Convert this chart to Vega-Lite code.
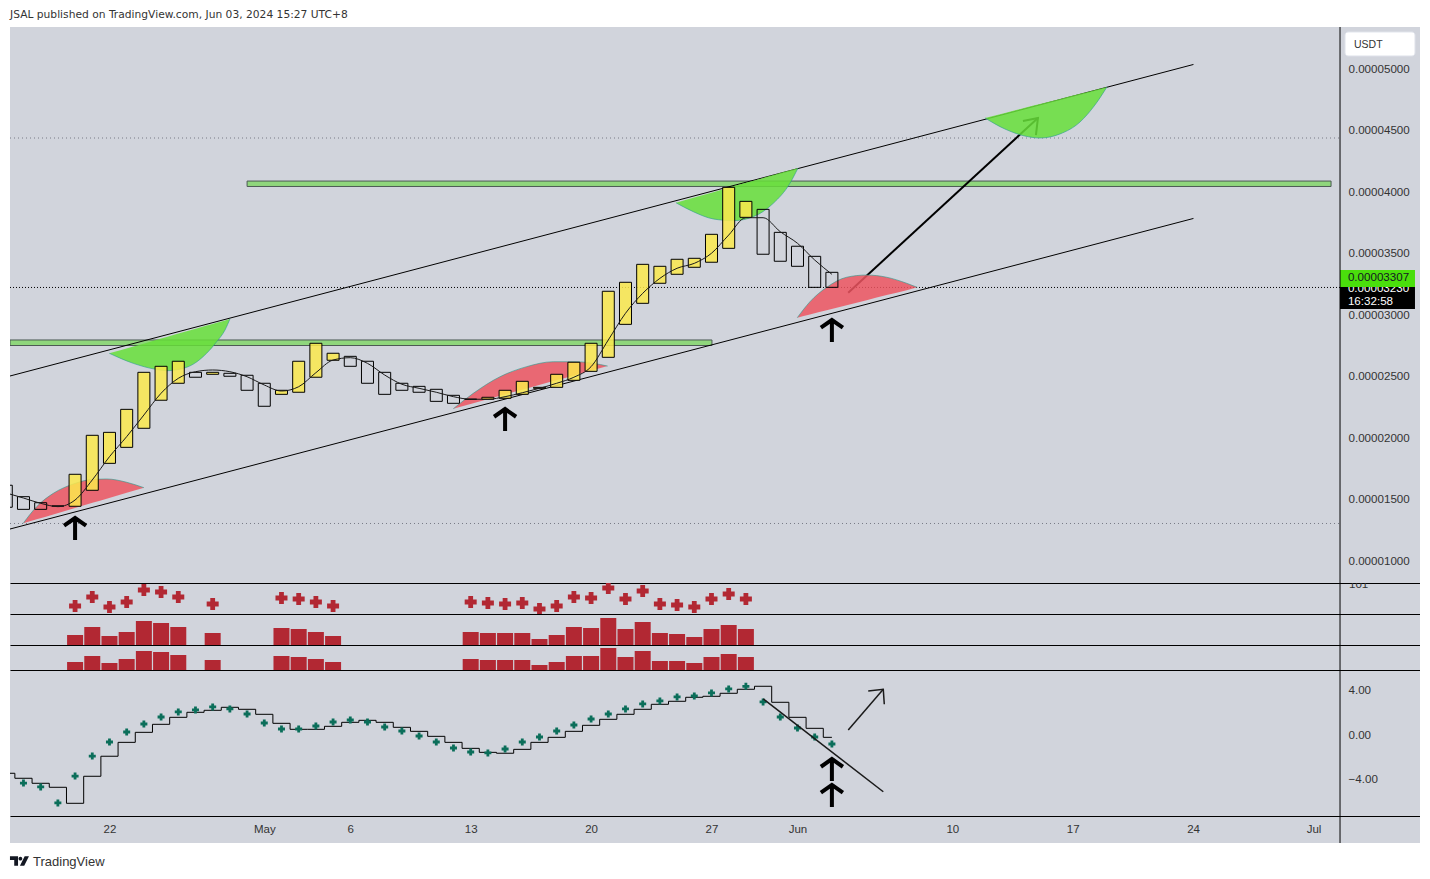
{
  "$schema": "https://vega.github.io/schema/vega-lite/v6.json",
  "description": "JSAL/USDT daily chart with channel, support zones, signal strips and oscillator.",
  "background": "#ffffff",
  "padding": {"left": 9, "right": 0, "top": 0, "bottom": 0},
  "bounds": "flush",
  "spacing": 0,
  "config": {
    "view": {"stroke": null},
    "scale": {"continuousPadding": 0},
    "axis": {"grid": false, "ticks": false, "title": null, "labelFont": "Liberation Sans", "labelFontSize": 11.6, "labelColor": "#333333"},
    "text": {"font": "Liberation Sans", "fontSize": 11.6, "color": "#333333", "align": "left"}
  },
  "datasets": {
    "candles": [
      {"date": "2024-04-16T00:00Z", "open": 1620, "close": 1441, "ma": 1557, "dir": "down"},
      {"date": "2024-04-17T00:00Z", "open": 1527, "close": 1424, "ma": 1516, "dir": "down"},
      {"date": "2024-04-18T00:00Z", "open": 1478, "close": 1424, "ma": 1473, "dir": "down"},
      {"date": "2024-04-19T00:00Z", "open": 1451, "close": 1451, "ma": 1446, "dir": "down"},
      {"date": "2024-04-20T00:00Z", "open": 1449, "close": 1709, "ma": 1500, "dir": "up"},
      {"date": "2024-04-21T00:00Z", "open": 1579, "close": 2026, "ma": 1663, "dir": "up"},
      {"date": "2024-04-22T00:00Z", "open": 1798, "close": 2050, "ma": 1852, "dir": "up"},
      {"date": "2024-04-23T00:00Z", "open": 1928, "close": 2237, "ma": 2015, "dir": "up"},
      {"date": "2024-04-24T00:00Z", "open": 2083, "close": 2538, "ma": 2191, "dir": "up"},
      {"date": "2024-04-25T00:00Z", "open": 2311, "close": 2587, "ma": 2368, "dir": "up"},
      {"date": "2024-04-26T00:00Z", "open": 2449, "close": 2628, "ma": 2489, "dir": "up"},
      {"date": "2024-04-27T00:00Z", "open": 2538, "close": 2498, "ma": 2543, "dir": "down"},
      {"date": "2024-04-28T00:00Z", "open": 2522, "close": 2538, "ma": 2557, "dir": "up"},
      {"date": "2024-04-29T00:00Z", "open": 2530, "close": 2506, "ma": 2543, "dir": "down"},
      {"date": "2024-04-30T00:00Z", "open": 2514, "close": 2392, "ma": 2502, "dir": "down"},
      {"date": "2024-05-01T00:00Z", "open": 2449, "close": 2262, "ma": 2435, "dir": "down"},
      {"date": "2024-05-02T00:00Z", "open": 2359, "close": 2392, "ma": 2386, "dir": "up"},
      {"date": "2024-05-03T00:00Z", "open": 2376, "close": 2628, "ma": 2421, "dir": "up"},
      {"date": "2024-05-04T00:00Z", "open": 2498, "close": 2774, "ma": 2535, "dir": "up"},
      {"date": "2024-05-05T00:00Z", "open": 2636, "close": 2693, "ma": 2638, "dir": "up"},
      {"date": "2024-05-06T00:00Z", "open": 2668, "close": 2587, "ma": 2657, "dir": "down"},
      {"date": "2024-05-07T00:00Z", "open": 2628, "close": 2449, "ma": 2611, "dir": "down"},
      {"date": "2024-05-08T00:00Z", "open": 2538, "close": 2359, "ma": 2516, "dir": "down"},
      {"date": "2024-05-09T00:00Z", "open": 2449, "close": 2392, "ma": 2441, "dir": "down"},
      {"date": "2024-05-10T00:00Z", "open": 2424, "close": 2376, "ma": 2408, "dir": "down"},
      {"date": "2024-05-11T00:00Z", "open": 2400, "close": 2302, "ma": 2376, "dir": "down"},
      {"date": "2024-05-12T00:00Z", "open": 2351, "close": 2286, "ma": 2340, "dir": "down"},
      {"date": "2024-05-13T00:00Z", "open": 2319, "close": 2319, "ma": 2319, "dir": "down"},
      {"date": "2024-05-14T00:00Z", "open": 2319, "close": 2335, "ma": 2319, "dir": "up"},
      {"date": "2024-05-15T00:00Z", "open": 2327, "close": 2392, "ma": 2340, "dir": "up"},
      {"date": "2024-05-16T00:00Z", "open": 2359, "close": 2465, "ma": 2372, "dir": "up"},
      {"date": "2024-05-17T00:00Z", "open": 2408, "close": 2416, "ma": 2408, "dir": "up"},
      {"date": "2024-05-18T00:00Z", "open": 2416, "close": 2522, "ma": 2449, "dir": "up"},
      {"date": "2024-05-19T00:00Z", "open": 2473, "close": 2620, "ma": 2498, "dir": "up"},
      {"date": "2024-05-20T00:00Z", "open": 2546, "close": 2774, "ma": 2584, "dir": "up"},
      {"date": "2024-05-21T00:00Z", "open": 2660, "close": 3197, "ma": 2801, "dir": "up"},
      {"date": "2024-05-22T00:00Z", "open": 2928, "close": 3270, "ma": 3018, "dir": "up"},
      {"date": "2024-05-23T00:00Z", "open": 3099, "close": 3416, "ma": 3180, "dir": "up"},
      {"date": "2024-05-24T00:00Z", "open": 3262, "close": 3400, "ma": 3302, "dir": "up"},
      {"date": "2024-05-25T00:00Z", "open": 3335, "close": 3457, "ma": 3384, "dir": "up"},
      {"date": "2024-05-26T00:00Z", "open": 3392, "close": 3465, "ma": 3424, "dir": "up"},
      {"date": "2024-05-27T00:00Z", "open": 3433, "close": 3660, "ma": 3506, "dir": "up"},
      {"date": "2024-05-28T00:00Z", "open": 3546, "close": 4042, "ma": 3654, "dir": "up"},
      {"date": "2024-05-29T00:00Z", "open": 3798, "close": 3928, "ma": 3795, "dir": "up"},
      {"date": "2024-05-30T00:00Z", "open": 3863, "close": 3498, "ma": 3795, "dir": "down"},
      {"date": "2024-05-31T00:00Z", "open": 3676, "close": 3441, "ma": 3681, "dir": "down"},
      {"date": "2024-06-01T00:00Z", "open": 3563, "close": 3400, "ma": 3587, "dir": "down"},
      {"date": "2024-06-02T00:00Z", "open": 3481, "close": 3229, "ma": 3451, "dir": "down"},
      {"date": "2024-06-03T00:00Z", "open": 3351, "close": 3229, "ma": 3335, "dir": "down"}
    ],
    "channels": [
      {"id": "upper", "date": "2024-04-16T05:12Z", "price": 2508},
      {"id": "upper", "date": "2024-06-24T00:30Z", "price": 5041},
      {"id": "lower", "date": "2024-04-16T05:12Z", "price": 1264},
      {"id": "lower", "date": "2024-06-24T00:30Z", "price": 3789}
    ],
    "target": [
      {"id": "shaft", "seq": 1, "date": "2024-06-03T22:48Z", "price": 3185},
      {"id": "shaft", "seq": 2, "date": "2024-06-14T23:30Z", "price": 4606},
      {"id": "head", "seq": 1, "date": "2024-06-14T02:36Z", "price": 4581},
      {"id": "head", "seq": 2, "date": "2024-06-14T23:30Z", "price": 4606},
      {"id": "head", "seq": 3, "date": "2024-06-14T20:42Z", "price": 4467}
    ],
    "greenArcs": [
      {"id": "g1", "date": "2024-04-21T23:42Z", "arc": 2693, "chord": 2693},
      {"id": "g1", "date": "2024-04-23T09:12Z", "arc": 2611, "chord": 2748},
      {"id": "g1", "date": "2024-04-24T15:54Z", "arc": 2563, "chord": 2799},
      {"id": "g1", "date": "2024-04-25T07:48Z", "arc": 2551, "chord": 2825},
      {"id": "g1", "date": "2024-04-26T11:42Z", "arc": 2579, "chord": 2871},
      {"id": "g1", "date": "2024-04-27T15:36Z", "arc": 2693, "chord": 2918},
      {"id": "g1", "date": "2024-04-28T05:36Z", "arc": 2787, "chord": 2941},
      {"id": "g1", "date": "2024-04-28T17:12Z", "arc": 2882, "chord": 2960},
      {"id": "g1", "date": "2024-04-29T00:06Z", "arc": 2972, "chord": 2972},
      {"id": "g2", "date": "2024-05-24T22:24Z", "arc": 3917, "chord": 3917},
      {"id": "g2", "date": "2024-05-25T22:36Z", "arc": 3844, "chord": 3957},
      {"id": "g2", "date": "2024-05-27T02:30Z", "arc": 3785, "chord": 4003},
      {"id": "g2", "date": "2024-05-28T06:24Z", "arc": 3771, "chord": 4050},
      {"id": "g2", "date": "2024-05-29T10:18Z", "arc": 3803, "chord": 4096},
      {"id": "g2", "date": "2024-05-30T14:12Z", "arc": 3912, "chord": 4142},
      {"id": "g2", "date": "2024-05-31T13:30Z", "arc": 4075, "chord": 4180},
      {"id": "g2", "date": "2024-06-01T00:42Z", "arc": 4199, "chord": 4199},
      {"id": "g3", "date": "2024-06-11T21:36Z", "arc": 4606, "chord": 4606},
      {"id": "g3", "date": "2024-06-13T01:30Z", "arc": 4516, "chord": 4647},
      {"id": "g3", "date": "2024-06-14T05:24Z", "arc": 4459, "chord": 4689},
      {"id": "g3", "date": "2024-06-15T02:18Z", "arc": 4443, "chord": 4719},
      {"id": "g3", "date": "2024-06-16T06:18Z", "arc": 4476, "chord": 4761},
      {"id": "g3", "date": "2024-06-17T10:12Z", "arc": 4573, "chord": 4802},
      {"id": "g3", "date": "2024-06-18T07:00Z", "arc": 4711, "chord": 4833},
      {"id": "g3", "date": "2024-06-18T23:48Z", "arc": 4858, "chord": 4858}
    ],
    "redArcs": [
      {"id": "r1", "date": "2024-04-16T23:42Z", "arc": 1311, "chord": 1311},
      {"id": "r1", "date": "2024-04-17T18:24Z", "arc": 1446, "chord": 1343},
      {"id": "r1", "date": "2024-04-18T17:36Z", "arc": 1554, "chord": 1383},
      {"id": "r1", "date": "2024-04-19T21:30Z", "arc": 1630, "chord": 1431},
      {"id": "r1", "date": "2024-04-21T01:24Z", "arc": 1668, "chord": 1479},
      {"id": "r1", "date": "2024-04-21T20:06Z", "arc": 1671, "chord": 1511},
      {"id": "r1", "date": "2024-04-23T00:00Z", "arc": 1644, "chord": 1559},
      {"id": "r1", "date": "2024-04-24T00:06Z", "arc": 1600, "chord": 1600},
      {"id": "r2", "date": "2024-05-11T23:42Z", "arc": 2242, "chord": 2242},
      {"id": "r2", "date": "2024-05-13T03:36Z", "arc": 2367, "chord": 2287},
      {"id": "r2", "date": "2024-05-14T16:54Z", "arc": 2502, "chord": 2347},
      {"id": "r2", "date": "2024-05-16T06:06Z", "arc": 2584, "chord": 2407},
      {"id": "r2", "date": "2024-05-17T19:12Z", "arc": 2624, "chord": 2467},
      {"id": "r2", "date": "2024-05-19T03:54Z", "arc": 2624, "chord": 2519},
      {"id": "r2", "date": "2024-05-20T03:00Z", "arc": 2611, "chord": 2557},
      {"id": "r2", "date": "2024-05-20T23:06Z", "arc": 2589, "chord": 2589},
      {"id": "r3", "date": "2024-05-31T23:42Z", "arc": 2982, "chord": 2982},
      {"id": "r3", "date": "2024-06-01T17:24Z", "arc": 3112, "chord": 3008},
      {"id": "r3", "date": "2024-06-02T16:42Z", "arc": 3229, "chord": 3042},
      {"id": "r3", "date": "2024-06-03T20:36Z", "arc": 3311, "chord": 3084},
      {"id": "r3", "date": "2024-06-05T00:30Z", "arc": 3329, "chord": 3124},
      {"id": "r3", "date": "2024-06-06T04:24Z", "arc": 3311, "chord": 3166},
      {"id": "r3", "date": "2024-06-07T08:18Z", "arc": 3262, "chord": 3206},
      {"id": "r3", "date": "2024-06-07T23:06Z", "arc": 3229, "chord": 3229}
    ],
    "signals": [
      {"date": "2024-04-20T00:00Z", "plus": 8, "vol1": 10, "vol2": 8},
      {"date": "2024-04-21T00:00Z", "plus": 17, "vol1": 18, "vol2": 14},
      {"date": "2024-04-22T00:00Z", "plus": 7, "vol1": 9, "vol2": 7},
      {"date": "2024-04-23T00:00Z", "plus": 12, "vol1": 13, "vol2": 11},
      {"date": "2024-04-24T00:00Z", "plus": 24, "vol1": 24, "vol2": 19},
      {"date": "2024-04-25T00:00Z", "plus": 22, "vol1": 22, "vol2": 18},
      {"date": "2024-04-26T00:00Z", "plus": 17, "vol1": 18, "vol2": 15},
      {"date": "2024-04-28T00:00Z", "plus": 10, "vol1": 12, "vol2": 10},
      {"date": "2024-05-02T00:00Z", "plus": 16, "vol1": 17, "vol2": 14},
      {"date": "2024-05-03T00:00Z", "plus": 15, "vol1": 16, "vol2": 13},
      {"date": "2024-05-04T00:00Z", "plus": 12, "vol1": 13, "vol2": 11},
      {"date": "2024-05-05T00:00Z", "plus": 8, "vol1": 9, "vol2": 8},
      {"date": "2024-05-13T00:00Z", "plus": 12, "vol1": 13, "vol2": 11},
      {"date": "2024-05-14T00:00Z", "plus": 11, "vol1": 12, "vol2": 10},
      {"date": "2024-05-15T00:00Z", "plus": 10, "vol1": 12, "vol2": 10},
      {"date": "2024-05-16T00:00Z", "plus": 11, "vol1": 12, "vol2": 10},
      {"date": "2024-05-17T00:00Z", "plus": 5, "vol1": 6, "vol2": 5},
      {"date": "2024-05-18T00:00Z", "plus": 8, "vol1": 10, "vol2": 8},
      {"date": "2024-05-19T00:00Z", "plus": 17, "vol1": 18, "vol2": 14},
      {"date": "2024-05-20T00:00Z", "plus": 16, "vol1": 17, "vol2": 14},
      {"date": "2024-05-21T00:00Z", "plus": 26, "vol1": 27, "vol2": 22},
      {"date": "2024-05-22T00:00Z", "plus": 15, "vol1": 16, "vol2": 13},
      {"date": "2024-05-23T00:00Z", "plus": 23, "vol1": 23, "vol2": 19},
      {"date": "2024-05-24T00:00Z", "plus": 10, "vol1": 12, "vol2": 9},
      {"date": "2024-05-25T00:00Z", "plus": 9, "vol1": 11, "vol2": 9},
      {"date": "2024-05-26T00:00Z", "plus": 7, "vol1": 8, "vol2": 7},
      {"date": "2024-05-27T00:00Z", "plus": 15, "vol1": 16, "vol2": 13},
      {"date": "2024-05-28T00:00Z", "plus": 20, "vol1": 20, "vol2": 16},
      {"date": "2024-05-29T00:00Z", "plus": 15, "vol1": 16, "vol2": 13}
    ],
    "oscillator": [
      {"date": "2024-04-16T00:00Z", "line": -3.44},
      {"date": "2024-04-17T00:00Z", "line": -3.89, "dots": -4.32},
      {"date": "2024-04-18T00:00Z", "line": -4.34, "dots": -4.67},
      {"date": "2024-04-19T00:00Z", "line": -4.70, "dots": -6.11},
      {"date": "2024-04-20T00:00Z", "line": -6.14, "dots": -3.69},
      {"date": "2024-04-21T00:00Z", "line": -3.71, "dots": -1.89},
      {"date": "2024-04-22T00:00Z", "line": -1.91, "dots": -0.63},
      {"date": "2024-04-23T00:00Z", "line": -0.66, "dots": 0.27},
      {"date": "2024-04-24T00:00Z", "line": 0.24, "dots": 0.99},
      {"date": "2024-04-25T00:00Z", "line": 0.96, "dots": 1.62},
      {"date": "2024-04-26T00:00Z", "line": 1.59, "dots": 2.07},
      {"date": "2024-04-27T00:00Z", "line": 2.04, "dots": 2.25},
      {"date": "2024-04-28T00:00Z", "line": 2.22, "dots": 2.52},
      {"date": "2024-04-29T00:00Z", "line": 2.49, "dots": 2.34},
      {"date": "2024-04-30T00:00Z", "line": 2.31, "dots": 1.89},
      {"date": "2024-05-01T00:00Z", "line": 1.86, "dots": 1.08},
      {"date": "2024-05-02T00:00Z", "line": 1.05, "dots": 0.54},
      {"date": "2024-05-03T00:00Z", "line": 0.51, "dots": 0.54},
      {"date": "2024-05-04T00:00Z", "line": 0.51, "dots": 0.81},
      {"date": "2024-05-05T00:00Z", "line": 0.78, "dots": 1.17},
      {"date": "2024-05-06T00:00Z", "line": 1.14, "dots": 1.35},
      {"date": "2024-05-07T00:00Z", "line": 1.32, "dots": 1.17},
      {"date": "2024-05-08T00:00Z", "line": 1.14, "dots": 0.72},
      {"date": "2024-05-09T00:00Z", "line": 0.69, "dots": 0.36},
      {"date": "2024-05-10T00:00Z", "line": 0.33, "dots": -0.09},
      {"date": "2024-05-11T00:00Z", "line": -0.12, "dots": -0.63},
      {"date": "2024-05-12T00:00Z", "line": -0.66, "dots": -1.17},
      {"date": "2024-05-13T00:00Z", "line": -1.20, "dots": -1.53},
      {"date": "2024-05-14T00:00Z", "line": -1.56, "dots": -1.61},
      {"date": "2024-05-15T00:00Z", "line": -1.64, "dots": -1.26},
      {"date": "2024-05-16T00:00Z", "line": -1.29, "dots": -0.63},
      {"date": "2024-05-17T00:00Z", "line": -0.66, "dots": -0.18},
      {"date": "2024-05-18T00:00Z", "line": -0.21, "dots": 0.36},
      {"date": "2024-05-19T00:00Z", "line": 0.33, "dots": 0.90},
      {"date": "2024-05-20T00:00Z", "line": 0.87, "dots": 1.44},
      {"date": "2024-05-21T00:00Z", "line": 1.41, "dots": 1.89},
      {"date": "2024-05-22T00:00Z", "line": 1.86, "dots": 2.34},
      {"date": "2024-05-23T00:00Z", "line": 2.31, "dots": 2.79},
      {"date": "2024-05-24T00:00Z", "line": 2.76, "dots": 3.06},
      {"date": "2024-05-25T00:00Z", "line": 3.03, "dots": 3.42},
      {"date": "2024-05-26T00:00Z", "line": 3.39, "dots": 3.51},
      {"date": "2024-05-27T00:00Z", "line": 3.48, "dots": 3.78},
      {"date": "2024-05-28T00:00Z", "line": 3.75, "dots": 4.14},
      {"date": "2024-05-29T00:00Z", "line": 4.11, "dots": 4.38},
      {"date": "2024-05-30T00:00Z", "line": 4.38, "dots": 2.97},
      {"date": "2024-05-31T00:00Z", "line": 2.94, "dots": 1.62},
      {"date": "2024-06-01T00:00Z", "line": 1.59, "dots": 0.63},
      {"date": "2024-06-02T00:00Z", "line": 0.60, "dots": -0.18},
      {"date": "2024-06-03T00:00Z", "line": -0.21, "dots": -0.81}
    ],
    "oscDrawings": [
      {"id": "trend", "seq": 1, "date": "2024-05-30T00:12Z", "value": 3.24},
      {"id": "trend", "seq": 2, "date": "2024-06-05T23:42Z", "value": -5.10},
      {"id": "shaft", "seq": 1, "date": "2024-06-03T22:48Z", "value": 0.45},
      {"id": "shaft", "seq": 2, "date": "2024-06-05T23:42Z", "value": 4.11},
      {"id": "head", "seq": 1, "date": "2024-06-05T02:42Z", "value": 3.96},
      {"id": "head", "seq": 2, "date": "2024-06-05T23:42Z", "value": 4.11},
      {"id": "head", "seq": 3, "date": "2024-06-06T01:06Z", "value": 2.76}
    ],
    "scaleEdge": [{"date": "2024-07-02T13:00Z"}]
  },
  "vconcat": [
    {
      "width": 1410,
      "height": 27,
      "data": {"values": [{"date": "2024-04-16T05:12Z", "label": "JSAL published on TradingView.com, Jun 03, 2024 15:27 UTC+8"}]},
      "mark": {"type": "text", "font": "DejaVu Sans", "fontSize": 10.7, "color": "#333333", "dy": 1},
      "encoding": {
        "x": {"field": "date", "type": "temporal", "axis": null, "scale": {"type": "utc", "domain": ["2024-04-16T05:12Z", "2024-07-07T04:36Z"]}},
        "text": {"field": "label"}
      }
    },
    {
      "width": 1410,
      "height": 556,
      "view": {"fill": "#d1d4dc"},
      "encoding": {
        "x": {"field": "date", "type": "temporal", "axis": null, "scale": {"type": "utc", "domain": ["2024-04-16T05:12Z", "2024-07-07T04:36Z"]}}
      },
      "layer": [
        {
          "data": {"values": [{"date": "2024-04-16T05:12Z", "end": "2024-07-02T13:00Z", "price": 4443}, {"date": "2024-04-16T05:12Z", "end": "2024-07-02T13:00Z", "price": 1309}]},
          "mark": {"type": "rule", "color": "#787b86", "strokeWidth": 1, "strokeDash": [1, 3]},
          "encoding": {
            "x2": {"field": "end"},
            "y": {
              "field": "price", "type": "quantitative",
              "scale": {"domain": [825.2, 5345.5]},
              "axis": {"orient": "right", "offset": -80, "domain": false, "labelPadding": 8, "labelBaseline": "middle", "values": [1000, 1500, 2000, 2500, 3000, 3500, 4000, 4500, 5000], "labelExpr": "format(datum.value / 100000000, '.8f')"}
            }
          }
        },
        {
          "data": {"values": [{"date": "2024-04-30T00:00Z", "end": "2024-07-02T00:30Z", "low": 4049, "high": 4093}, {"date": "2024-04-16T05:12Z", "end": "2024-05-27T00:40Z", "low": 2756, "high": 2801}]},
          "mark": {"type": "rect", "fill": "#8fd67c", "stroke": "#4d5a55", "strokeWidth": 1, "clip": true},
          "encoding": {
            "x2": {"field": "end"},
            "y": {"field": "low", "type": "quantitative", "scale": {"domain": [825.2, 5345.5]}},
            "y2": {"field": "high"}
          }
        },
        {
          "data": {"values": [{"date": "2024-04-16T05:12Z", "end": "2024-07-02T13:00Z", "price": 3228}]},
          "mark": {"type": "rule", "color": "#000000", "strokeWidth": 1, "strokeDash": [1, 2]},
          "encoding": {
            "x2": {"field": "end"},
            "y": {"field": "price", "type": "quantitative", "scale": {"domain": [825.2, 5345.5]}}
          }
        },
        {
          "data": {"name": "channels"},
          "mark": {"type": "line", "color": "#000000", "strokeWidth": 1, "clip": true},
          "encoding": {
            "detail": {"field": "id"},
            "y": {"field": "price", "type": "quantitative", "scale": {"domain": [825.2, 5345.5]}}
          }
        },
        {
          "data": {"name": "target"},
          "mark": {"type": "line", "color": "#000000", "strokeWidth": 2, "clip": true},
          "encoding": {
            "detail": {"field": "id"},
            "order": {"field": "seq"},
            "y": {"field": "price", "type": "quantitative", "scale": {"domain": [825.2, 5345.5]}}
          }
        },
        {
          "data": {"name": "greenArcs"},
          "mark": {"type": "area", "color": "#67df3a", "opacity": 0.85, "interpolate": "monotone"},
          "encoding": {
            "detail": {"field": "id"},
            "y": {"field": "arc", "type": "quantitative", "scale": {"domain": [825.2, 5345.5]}},
            "y2": {"field": "chord"}
          }
        },
        {
          "data": {"name": "redArcs"},
          "mark": {"type": "area", "color": "#ed5560", "opacity": 0.85, "interpolate": "monotone", "clip": true},
          "encoding": {
            "detail": {"field": "id"},
            "y": {"field": "arc", "type": "quantitative", "scale": {"domain": [825.2, 5345.5]}},
            "y2": {"field": "chord"}
          }
        },
        {
          "data": {"name": "greenArcs"},
          "mark": {"type": "line", "color": "#2a9d8f", "strokeWidth": 1, "opacity": 0.6, "interpolate": "monotone"},
          "encoding": {
            "detail": {"field": "id"},
            "y": {"field": "arc", "type": "quantitative", "scale": {"domain": [825.2, 5345.5]}}
          }
        },
        {
          "data": {"name": "redArcs"},
          "mark": {"type": "line", "color": "#2a9d8f", "strokeWidth": 1, "opacity": 0.6, "interpolate": "monotone"},
          "encoding": {
            "detail": {"field": "id"},
            "y": {"field": "arc", "type": "quantitative", "scale": {"domain": [825.2, 5345.5]}}
          }
        },
        {
          "data": {"name": "candles"},
          "mark": {"type": "bar", "size": 12, "stroke": "#000000", "strokeWidth": 1, "fillOpacity": 0.85, "clip": true},
          "encoding": {
            "y": {"field": "open", "type": "quantitative", "scale": {"domain": [825.2, 5345.5]}},
            "y2": {"field": "close"},
            "fill": {"field": "dir", "type": "nominal", "legend": null, "scale": {"domain": ["up", "down"], "range": ["#fbe94c", "transparent"]}}
          }
        },
        {
          "data": {"name": "candles"},
          "mark": {"type": "line", "color": "#1a1a1a", "strokeWidth": 1, "interpolate": "monotone", "clip": true},
          "encoding": {
            "y": {"field": "ma", "type": "quantitative", "scale": {"domain": [825.2, 5345.5]}}
          }
        },
        {
          "data": {"values": [{"date": "2024-04-20T00:00Z", "price": 1264}, {"date": "2024-05-15T00:00Z", "price": 2150}, {"date": "2024-06-03T00:00Z", "price": 2874}]},
          "mark": {"type": "point", "shape": "M0,1 L0,-1 M-1,-0.3 L0,-1 L1,-0.3", "size": 484, "filled": false, "stroke": "#000000", "strokeWidth": 4, "opacity": 1},
          "encoding": {
            "y": {"field": "price", "type": "quantitative", "scale": {"domain": [825.2, 5345.5]}}
          }
        },
        {
          "data": {"values": [{"date": "2024-07-02T20:00Z", "end": "2024-07-06T21:36Z", "low": 5110, "high": 5305}]},
          "mark": {"type": "rect", "fill": "#ffffff", "stroke": "#e0e3eb", "cornerRadius": 3},
          "encoding": {
            "x2": {"field": "end"},
            "y": {"field": "low", "type": "quantitative", "scale": {"domain": [825.2, 5345.5]}},
            "y2": {"field": "high"}
          }
        },
        {
          "data": {"values": [{"date": "2024-07-03T08:30Z", "price": 5197, "label": "USDT"}]},
          "mark": {"type": "text", "fontSize": 10.5},
          "encoding": {
            "y": {"field": "price", "type": "quantitative", "scale": {"domain": [825.2, 5345.5]}},
            "text": {"field": "label"}
          }
        },
        {
          "data": {"values": [{"date": "2024-07-02T13:00Z", "end": "2024-07-06T21:36Z", "low": 3053, "high": 3232}]},
          "mark": {"type": "rect", "fill": "#000000"},
          "encoding": {
            "x2": {"field": "end"},
            "y": {"field": "low", "type": "quantitative", "scale": {"domain": [825.2, 5345.5]}},
            "y2": {"field": "high"}
          }
        },
        {
          "data": {"values": [{"date": "2024-07-03T00:00Z", "price": 3218, "label": "0.00003230"}, {"date": "2024-07-03T00:00Z", "price": 3110, "label": "16:32:58"}]},
          "mark": {"type": "text", "color": "#ffffff", "font": "Liberation Sans", "fontSize": 11.6},
          "encoding": {
            "y": {"field": "price", "type": "quantitative", "scale": {"domain": [825.2, 5345.5]}},
            "text": {"field": "label"}
          }
        },
        {
          "data": {"values": [{"date": "2024-07-02T13:00Z", "end": "2024-07-06T21:36Z", "low": 3232, "high": 3370}]},
          "mark": {"type": "rect", "fill": "#4ade0c"},
          "encoding": {
            "x2": {"field": "end"},
            "y": {"field": "low", "type": "quantitative", "scale": {"domain": [825.2, 5345.5]}},
            "y2": {"field": "high"}
          }
        },
        {
          "data": {"values": [{"date": "2024-07-03T00:00Z", "price": 3301, "label": "0.00003307"}]},
          "mark": {"type": "text", "color": "#131722", "font": "Liberation Sans", "fontSize": 11.6},
          "encoding": {
            "y": {"field": "price", "type": "quantitative", "scale": {"domain": [825.2, 5345.5]}},
            "text": {"field": "label"}
          }
        },
        {
          "data": {"name": "scaleEdge"},
          "mark": {"type": "rule", "color": "#000000", "strokeWidth": 1}
        }
      ]
    },
    {
      "width": 1410,
      "height": 31,
      "view": {"fill": "#d1d4dc"},
      "encoding": {
        "x": {"field": "date", "type": "temporal", "scale": {"type": "utc", "domain": ["2024-04-16T05:12Z", "2024-07-07T04:36Z"]}, "axis": {"orient": "top", "labels": false, "domain": true, "domainColor": "#000000"}}
      },
      "layer": [
        {
          "data": {"name": "signals"},
          "mark": {"type": "point", "shape": "cross", "filled": true, "size": 144, "color": "#b22833", "opacity": 1, "clip": true},
          "encoding": {
            "y": {"field": "plus", "type": "quantitative", "scale": {"domain": [0, 31]}, "axis": null}
          }
        },
        {
          "data": {"values": [{"date": "2024-07-03T01:30Z", "level": 29, "label": "101"}]},
          "mark": {"type": "text", "clip": true},
          "encoding": {
            "y": {"field": "level", "type": "quantitative", "scale": {"domain": [0, 31]}, "axis": null},
            "text": {"field": "label"}
          }
        },
        {
          "data": {"name": "scaleEdge"},
          "mark": {"type": "rule", "color": "#000000", "strokeWidth": 1}
        }
      ]
    },
    {
      "width": 1410,
      "height": 31,
      "view": {"fill": "#d1d4dc"},
      "encoding": {
        "x": {"field": "date", "type": "temporal", "scale": {"type": "utc", "domain": ["2024-04-16T05:12Z", "2024-07-07T04:36Z"]}, "axis": {"orient": "top", "labels": false, "domain": true, "domainColor": "#000000"}}
      },
      "layer": [
        {
          "data": {"name": "signals"},
          "mark": {"type": "bar", "size": 16, "color": "#b22833"},
          "encoding": {
            "y": {"field": "vol1", "type": "quantitative", "scale": {"domain": [0, 31]}, "axis": null}
          }
        },
        {
          "data": {"name": "scaleEdge"},
          "mark": {"type": "rule", "color": "#000000", "strokeWidth": 1}
        }
      ]
    },
    {
      "width": 1410,
      "height": 25,
      "view": {"fill": "#d1d4dc"},
      "encoding": {
        "x": {"field": "date", "type": "temporal", "scale": {"type": "utc", "domain": ["2024-04-16T05:12Z", "2024-07-07T04:36Z"]}, "axis": {"orient": "top", "labels": false, "domain": true, "domainColor": "#000000"}}
      },
      "layer": [
        {
          "data": {"name": "signals"},
          "mark": {"type": "bar", "size": 16, "color": "#b22833"},
          "encoding": {
            "y": {"field": "vol2", "type": "quantitative", "scale": {"domain": [0, 25]}, "axis": null}
          }
        },
        {
          "data": {"name": "scaleEdge"},
          "mark": {"type": "rule", "color": "#000000", "strokeWidth": 1}
        }
      ]
    },
    {
      "width": 1410,
      "height": 146,
      "view": {"fill": "#d1d4dc"},
      "encoding": {
        "x": {"field": "date", "type": "temporal", "scale": {"type": "utc", "domain": ["2024-04-16T05:12Z", "2024-07-07T04:36Z"]}, "axis": {"orient": "top", "labels": false, "domain": true, "domainColor": "#000000"}}
      },
      "layer": [
        {
          "data": {"name": "oscillator"},
          "mark": {"type": "line", "color": "#000000", "strokeWidth": 1, "interpolate": "step", "clip": true},
          "encoding": {
            "y": {
              "field": "line", "type": "quantitative",
              "scale": {"domain": [-7.281, 5.843]},
              "axis": {"orient": "right", "offset": -80, "domain": false, "labelPadding": 8, "values": [-4, 0, 4], "format": ".2f"}
            }
          }
        },
        {
          "data": {"name": "oscillator"},
          "transform": [{"filter": "isValid(datum.dots)"}],
          "mark": {"type": "point", "shape": "cross", "filled": true, "size": 49, "color": "#0b6e5a", "opacity": 1, "clip": true},
          "encoding": {
            "y": {"field": "dots", "type": "quantitative", "scale": {"domain": [-7.281, 5.843]}}
          }
        },
        {
          "data": {"name": "oscDrawings"},
          "mark": {"type": "line", "color": "#1a1a1a", "strokeWidth": 1.5},
          "encoding": {
            "detail": {"field": "id"},
            "order": {"field": "seq"},
            "y": {"field": "value", "type": "quantitative", "scale": {"domain": [-7.281, 5.843]}}
          }
        },
        {
          "data": {"values": [{"date": "2024-06-03T00:00Z", "value": -3.15}, {"date": "2024-06-03T00:00Z", "value": -5.48}]},
          "mark": {"type": "point", "shape": "M0,1 L0,-1 M-1,-0.3 L0,-1 L1,-0.3", "size": 484, "filled": false, "stroke": "#000000", "strokeWidth": 4, "opacity": 1},
          "encoding": {
            "y": {"field": "value", "type": "quantitative", "scale": {"domain": [-7.281, 5.843]}}
          }
        },
        {
          "data": {"name": "scaleEdge"},
          "mark": {"type": "rule", "color": "#000000", "strokeWidth": 1}
        }
      ]
    },
    {
      "width": 1410,
      "height": 27,
      "view": {"fill": "#d1d4dc"},
      "data": {"name": "scaleEdge"},
      "mark": {"type": "rule", "color": "#000000", "strokeWidth": 1},
      "encoding": {
        "x": {
          "field": "date", "type": "temporal",
          "scale": {"type": "utc", "domain": ["2024-04-16T05:12Z", "2024-07-07T04:36Z"]},
          "axis": {
            "orient": "bottom", "offset": -27, "domain": true, "domainColor": "#000000", "labelPadding": 7, "labelFontSize": 11.5,
            "values": ["2024-04-22T00:00Z", "2024-05-01T00:00Z", "2024-05-06T00:00Z", "2024-05-13T00:00Z", "2024-05-20T00:00Z", "2024-05-27T00:00Z", "2024-06-01T00:00Z", "2024-06-10T00:00Z", "2024-06-17T00:00Z", "2024-06-24T00:00Z", "2024-07-01T00:00Z"],
            "labelExpr": "utcdate(datum.value) === 1 ? utcFormat(datum.value, '%b') : utcFormat(datum.value, '%-d')"
          }
        }
      }
    },
    {
      "width": 1410,
      "height": 36,
      "encoding": {
        "x": {"field": "date", "type": "temporal", "axis": null, "scale": {"type": "utc", "domain": ["2024-04-16T05:12Z", "2024-07-07T04:36Z"]}}
      },
      "layer": [
        {
          "data": {"values": [{"date": "2024-04-16T18:24Z"}]},
          "mark": {"type": "point", "shape": "M-1,-0.5 L-0.15,-0.5 L-0.15,0.5 L-0.55,0.5 L-0.55,-0.1 L-1,-0.1 Z M0.1,-0.45 A0.2,0.2 0 1 1 0.1,-0.05 A0.2,0.2 0 1 1 0.1,-0.45 Z M0.55,-0.5 L1,-0.5 L0.5,0.5 L0.05,0.5 Z", "size": 361, "filled": true, "color": "#131722", "opacity": 1}
        },
        {
          "data": {"values": [{"date": "2024-04-17T13:18Z", "label": "TradingView"}]},
          "mark": {"type": "text", "font": "Liberation Sans", "fontSize": 13, "color": "#333333", "dy": 1},
          "encoding": {"text": {"field": "label"}}
        }
      ]
    }
  ]
}
